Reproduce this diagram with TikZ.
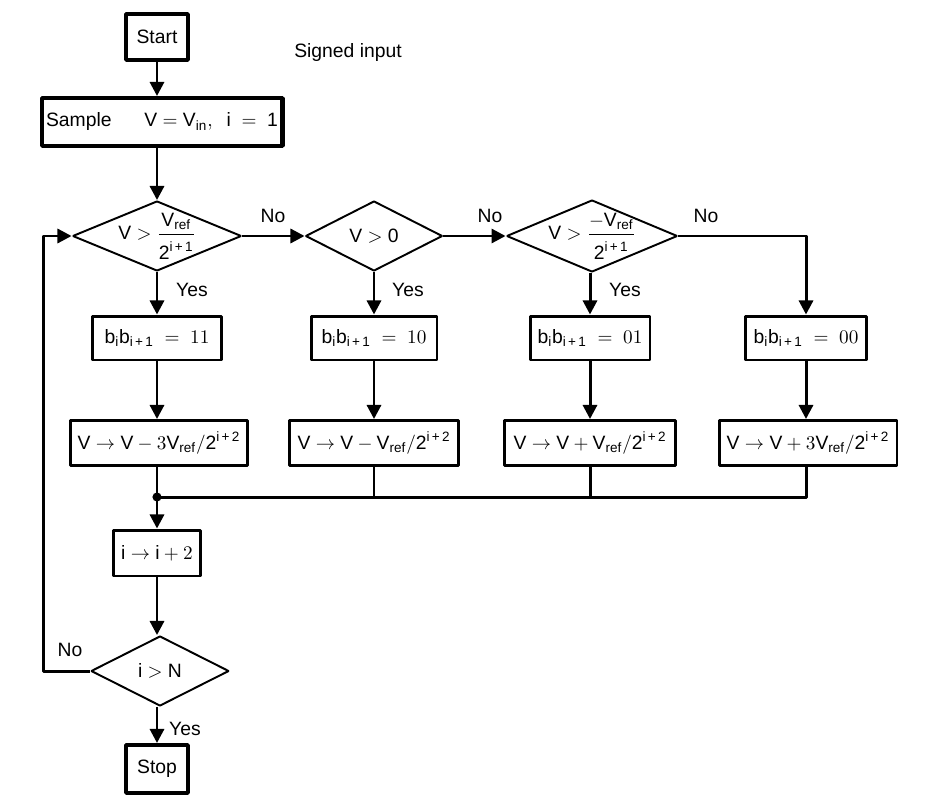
\documentclass[tikz,border=0pt]{standalone}
\usepackage{amsmath}
\usepackage{fontspec}
\setmainfont{Liberation Sans}
\usetikzlibrary{arrows.meta,shapes.geometric}

\newcommand{\fracdn}[1]{\rule{0pt}{12.5pt}#1}

\begin{document}
\begin{tikzpicture}[x=0.02cm,y=-0.02cm,>={Triangle[length=8pt,width=8pt]},line join=bevel,
  font=\fontsize{11}{13}\selectfont,
  term/.style={draw,line width=2.3pt,minimum height=0.92cm,inner sep=2pt},
  proc/.style={draw,line width=1.7pt,minimum height=0.88cm,inner sep=2pt},
  test/.style={draw,diamond,line width=1.1pt,inner sep=0pt,minimum height=1.4cm},
  flow/.style={line width=1.7pt}]

\useasboundingbox (0,0) rectangle (939,811);

\node[term,minimum width=1.24cm] (start) at (157,37) {Start};

\node (signed) at (348,53) {Signed input};

\node[term,minimum width=4.82cm,minimum height=0.96cm] (sample) at (162,122)
  {Sample\hspace{1.7em}$\text{V} = \text{V}_{\text{in}},\ \ \text{i}\ =\ \text{1}$};

\node[test,minimum width=3.38cm,label={center:$\text{V} > \dfrac{\text{V}_{\text{ref}}}{\fracdn{\text{2}^{\text{i\,+\,1}}}}$}] (pos) at (157,236) {};
\node[test,minimum width=2.74cm,label={center:$\text{V} > \text{0}$}] (zero) at (374,236) {};
\node[test,minimum width=3.42cm,minimum height=1.44cm,label={center:$\text{V} > \dfrac{-\text{V}_{\text{ref}}}{\fracdn{\text{2}^{\text{i\,+\,1}}}}$}] (neg) at (592,236) {};

\node[proc,minimum width=2.58cm] (b11) at (157,338) {$\text{b}_{\text{i}}\text{b}_{\text{i\,+\,1}}\ =\ 11$};
\node[proc,minimum width=2.52cm] (b10) at (374,338) {$\text{b}_{\text{i}}\text{b}_{\text{i\,+\,1}}\ =\ 10$};
\node[proc,minimum width=2.40cm] (b01) at (590,338) {$\text{b}_{\text{i}}\text{b}_{\text{i\,+\,1}}\ =\ 01$};
\node[proc,minimum width=2.42cm] (b00) at (806,338) {$\text{b}_{\text{i}}\text{b}_{\text{i\,+\,1}}\ =\ 00$};

\node[proc,minimum width=3.54cm,minimum height=0.9cm] (s11) at (159,443) {$\text{V} \rightarrow \text{V} - 3\text{V}_{\text{ref}}/\text{2}^{\text{i\,+\,2}}$};
\node[proc,minimum width=3.40cm,minimum height=0.9cm] (s10) at (374,443) {$\text{V} \rightarrow \text{V} - \text{V}_{\text{ref}}/\text{2}^{\text{i\,+\,2}}$};
\node[proc,minimum width=3.42cm,minimum height=0.9cm] (s01) at (590,443) {$\text{V} \rightarrow \text{V} + \text{V}_{\text{ref}}/\text{2}^{\text{i\,+\,2}}$};
\node[proc,minimum width=3.56cm,minimum height=0.9cm] (s00) at (808,443) {$\text{V} \rightarrow \text{V} + 3\text{V}_{\text{ref}}/\text{2}^{\text{i\,+\,2}}$};

\coordinate (join) at (157,497);

\node[proc,minimum width=1.74cm,minimum height=0.92cm] (incr) at (157,553) {$\text{i} \rightarrow \text{i} + 2$};

\node[test,minimum width=2.76cm,label={center:$\text{i} > \text{N}$}] (done) at (160,671) {};

\node[term,minimum width=1.24cm,minimum height=0.96cm] (stop) at (157,769) {Stop};

\node (no1) at (273,216) {No};
\node (no2) at (490,216) {No};
\node (no3) at (706,216) {No};
\node (no4) at (70,650) {No};
\node (yes1) at (192,290) {Yes};
\node (yes2) at (408,290) {Yes};
\node (yes3) at (625,290) {Yes};
\node (yes4) at (185,729) {Yes};

\draw[flow,->] (start) -- (start |- sample.north);
\draw[flow,->] (sample.south -| pos.north) -- (pos.north);

\draw[flow,->] (pos.east) -- (zero.west);
\draw[flow,->] (zero.east) -- (neg.west);
\draw[flow,->] (neg.east) -| (b00.north);

\draw[flow,->] (pos.south) -- (b11.north);
\draw[flow,->] (zero.south) -- (b10.north);
\draw[flow,->] (neg.south -| b01.north) -- (b01.north);

\draw[flow,->] (b11) -- (b11 |- s11.north);
\draw[flow,->] (b10) -- (s10);
\draw[flow,->] (b01) -- (s01);
\draw[flow,->] (b00) -- (b00 |- s00.north);

\draw[flow] (s11.south -| join) -- (join) -- (join -| b00) -- (b00 |- s00.south);
\draw[flow] (s10.south) -- (s10.south |- join);
\draw[flow] (s01.south) -- (s01.south |- join);
\fill (join) circle (2.6pt);

\draw[flow,->] (join) -- (incr);
\draw[flow,->] (incr.south) -- (incr.south |- done.north);
\draw[flow,->] (done.south -| stop) -- (stop);
\draw[flow,->] (done.west) -- ++(-47,0) |- (pos.west);

\end{tikzpicture}
\end{document}
